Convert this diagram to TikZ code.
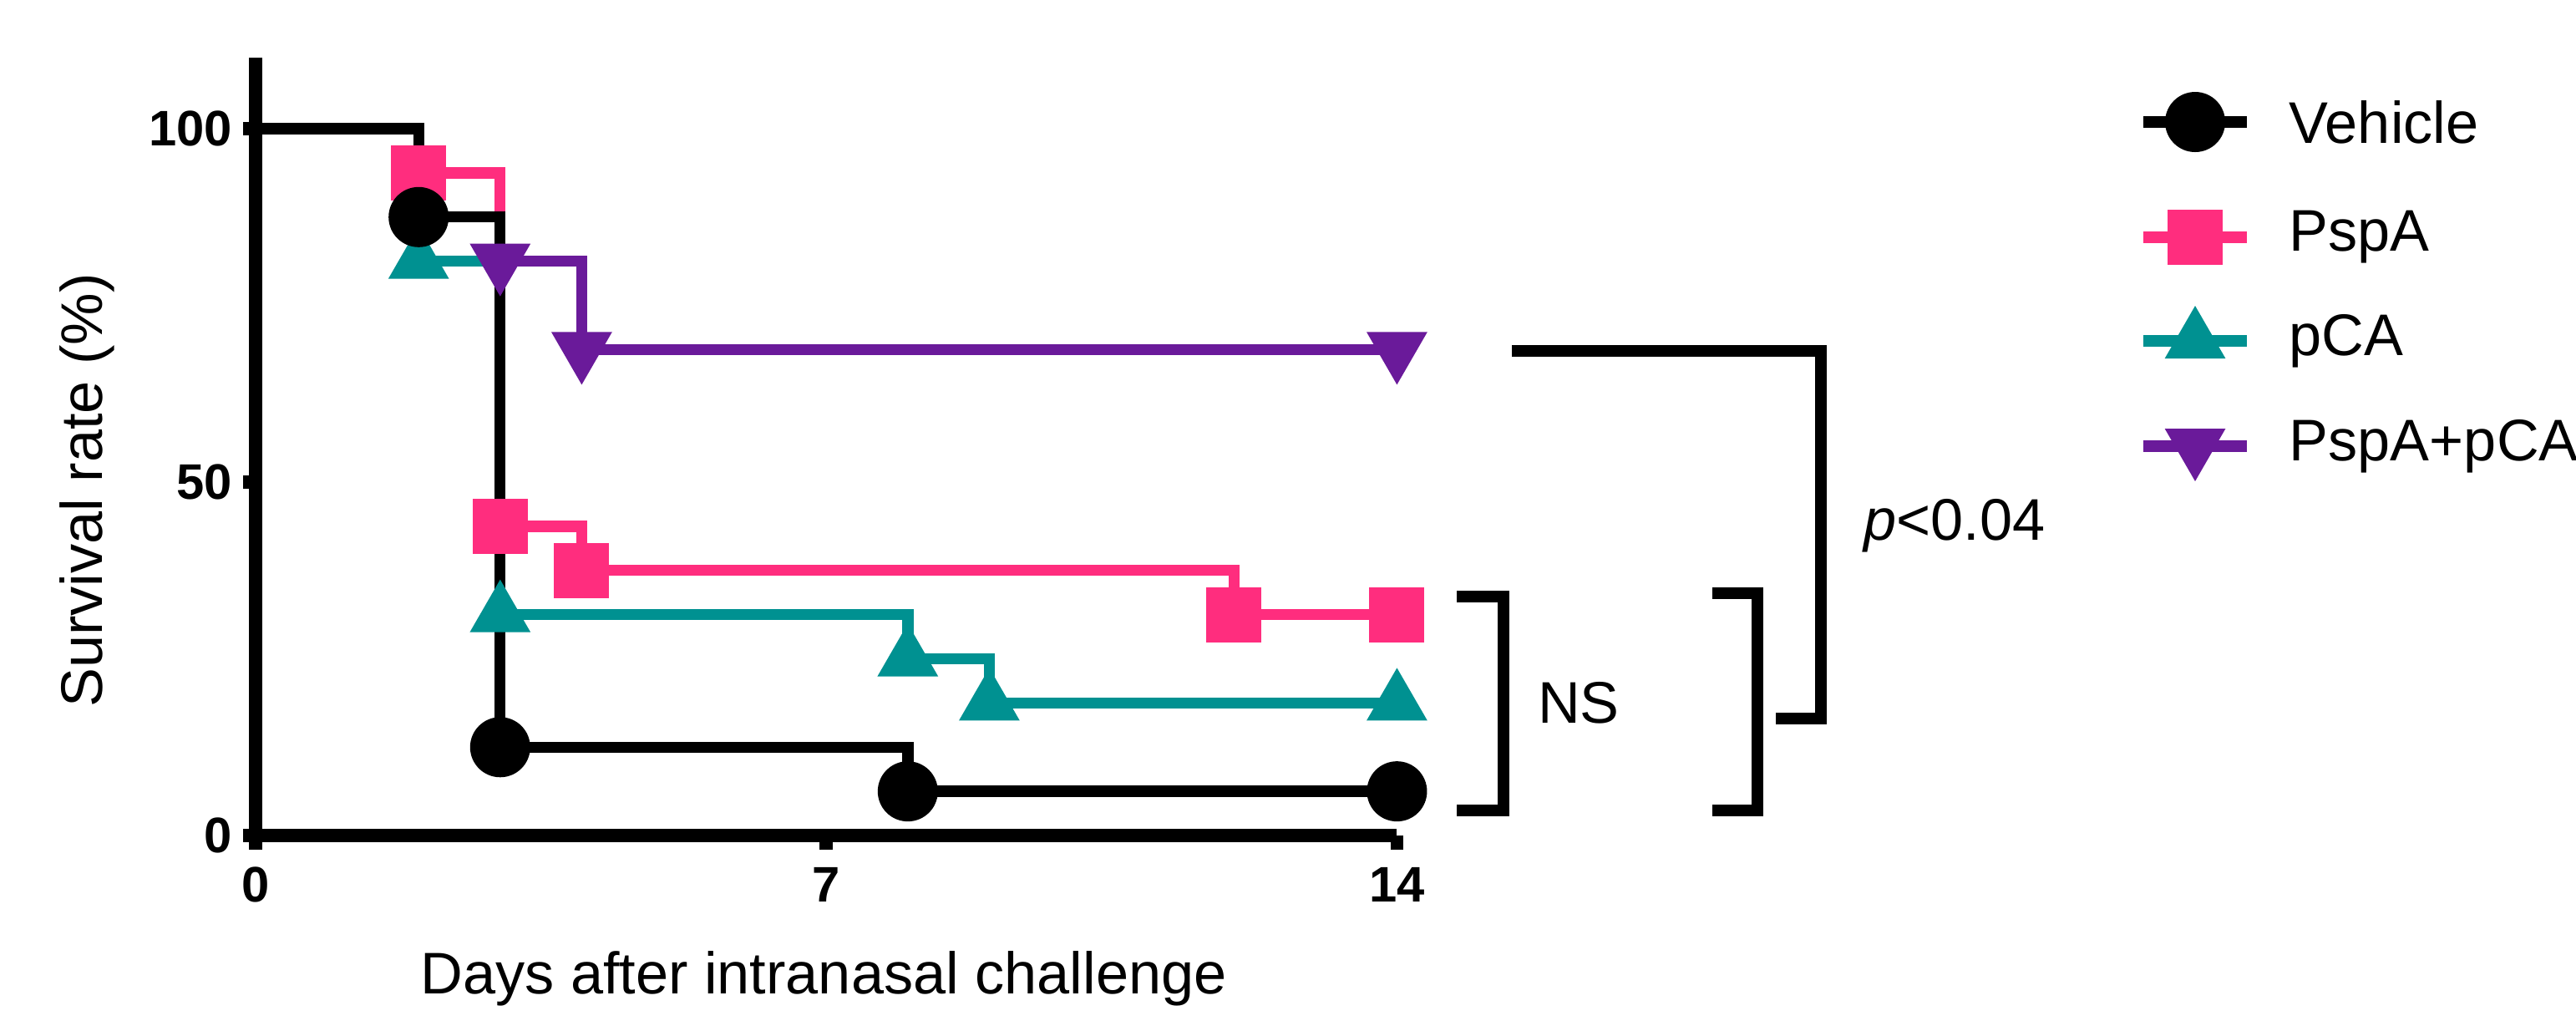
\documentclass[tikz,border=0pt]{standalone}
\usepackage{fontspec}
\setmainfont{Liberation Sans}
\usetikzlibrary{shapes.geometric}
\definecolor{pk}{HTML}{FF2D7E}
\definecolor{tl}{HTML}{009191}
\definecolor{pu}{HTML}{6A1A9A}
\begin{document}
\begin{tikzpicture}[
 ln/.style={line width=1.9pt},
 mc/.style={circle,fill=black,inner sep=0pt,minimum size=0.36cm},
 ms/.style={rectangle,fill=pk,inner sep=0pt,minimum size=0.33cm},
 mt/.style={regular polygon,regular polygon sides=3,fill=tl,inner sep=0pt,minimum size=0.42cm},
 mv/.style={regular polygon,regular polygon sides=3,shape border rotate=180,fill=pu,inner sep=0pt,minimum size=0.42cm},
 tk/.style={font=\bfseries\fontsize{8.5}{10}\selectfont},
 lb/.style={font=\fontsize{10}{12}\selectfont}]
\useasboundingbox (0,0) rectangle (15.42,6.135);
\begin{scope}[shift={(1.53,1.135)},x=0.488cm,y=0.0423cm]
\draw[ln,pk] (2,93.75)-|(3,43.75)-|(4,37.5)-|(12,31.25)--(14,31.25);
\draw[ln,tl] (2,81.25)-|(3,31.25)-|(8,25)-|(9,18.75)--(14,18.75);
\draw[ln,pu] (3,81.25)-|(4,68.75)--(14,68.75);
\draw[ln,black] (0,100)-|(2,87.5)-|(3,12.5)-|(8,6.25)--(14,6.25);
\node[ms] (p1) at (2,93.75) {}; \node[ms] (p2) at (3,43.75) {}; \node[ms] (p3) at (4,37.5) {}; \node[ms] (p4) at (12,31.25) {}; \node[ms] (p5) at (14,31.25) {};
\node[mt] (t1) at (2,81.25) {}; \node[mt] (t2) at (3,31.25) {}; \node[mt] (t3) at (8,25) {}; \node[mt] (t4) at (9,18.75) {}; \node[mt] (t5) at (14,18.75) {};
\node[mv] (v1) at (3,81.25) {}; \node[mv] (v2) at (4,68.75) {}; \node[mv] (v3) at (14,68.75) {};
\node[mc] (c1) at (2,87.5) {}; \node[mc] (c2) at (3,12.5) {}; \node[mc] (c3) at (8,6.25) {}; \node[mc] (c4) at (14,6.25) {};
\draw[line width=2.2pt] (0,110)--(0,0)--(14,0);
\foreach \y in {0,50,100}{\draw[line width=2.2pt] (0,\y)--++(-0.15,0); \node[tk,anchor=east,inner sep=1pt] at (-0.2,\y) {\y};}
\foreach \x in {0,7,14}{\draw[line width=2.2pt] (\x,0)--++(0,-2); \node[tk,anchor=north,inner sep=1pt] at (\x,-3.5) {\x};}
\end{scope}
\node[lb,rotate=90] (yl) at (0.52,3.2) {Survival rate (\%)};
\node[lb] (xl) at (4.93,0.28) {Days after intranasal challenge};
\draw[ln] (8.72,2.565)-|(9.0,1.285)--(8.72,1.285);
\node[lb] (ns) at (9.45,1.93) {NS};
\draw[ln] (10.25,2.585)-|(10.52,1.285)--(10.25,1.285);
\draw[ln] (9.05,4.035)-|(10.9,1.835)--(10.63,1.835);
\node[lb] (pv) at (11.7,2.99) {\textit{p}<0.04};
\foreach \yy/\s/\c/\t [count=\i] in {5.405/mc/black/Vehicle,4.715/ms/pk/PspA,4.095/mt/tl/pCA,3.465/mv/pu/PspA+pCA}{
 \draw[ln,\c] (12.83,\yy)--(13.45,\yy);
 \node[\s] (m\i) at (13.14,\yy) {};
 \node[lb,anchor=west] (l\i) at (13.58,\yy) {\t};}
\end{tikzpicture}
\end{document}
